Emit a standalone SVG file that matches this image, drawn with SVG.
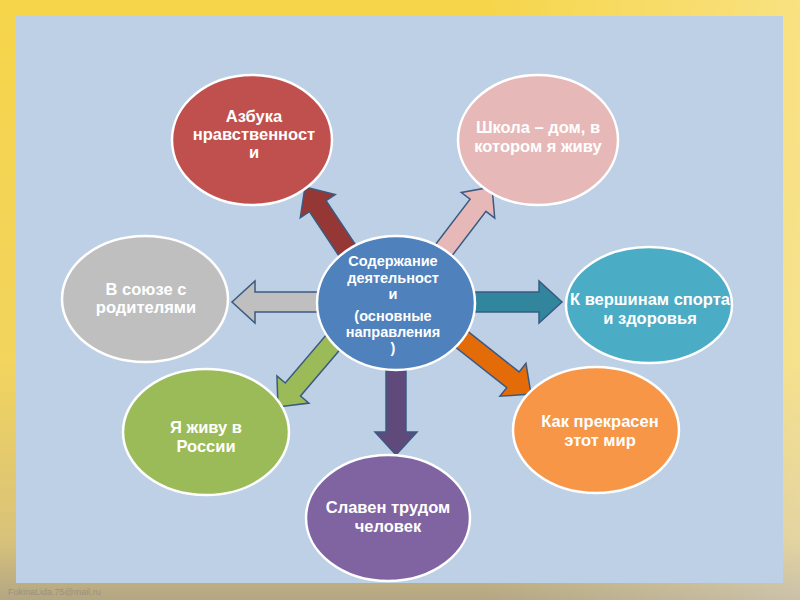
<svg xmlns="http://www.w3.org/2000/svg" width="800" height="600" viewBox="0 0 800 600">
<defs>
<linearGradient id="bg" x1="0" y1="0" x2="0" y2="1">
<stop offset="0" stop-color="#f6d54a"/>
<stop offset="0.6" stop-color="#f2d45e"/>
<stop offset="0.9" stop-color="#d8c27a"/>
<stop offset="1" stop-color="#b3a684"/>
</linearGradient>
<linearGradient id="bgh" x1="0" y1="0" x2="1" y2="0">
<stop offset="0" stop-color="#ffffff" stop-opacity="0"/>
<stop offset="0.6" stop-color="#ffffff" stop-opacity="0"/>
<stop offset="1" stop-color="#ffffff" stop-opacity="0.3"/>
</linearGradient>
<style>
.node{stroke:#ffffff;stroke-width:2.5}
.arr{stroke:#3b5a82;stroke-width:1.5;stroke-linejoin:miter}
.t{font-family:"Liberation Sans",Arial,sans-serif;font-weight:bold;font-size:16.5px;fill:#ffffff;text-anchor:middle}
.tc{font-family:"Liberation Sans",Arial,sans-serif;font-weight:bold;font-size:14.5px;fill:#ffffff;text-anchor:middle}
</style>
<polygon id="ar" points="-90,-10 -23,-10 -23,-21 0,0 -23,21 -23,10 -90,10"/>
</defs>
<rect x="0" y="0" width="800" height="600" fill="url(#bg)"/>
<rect x="0" y="0" width="800" height="600" fill="url(#bgh)"/>
<rect x="16" y="16" width="767" height="567" fill="#bed0e5"/>
<text x="8" y="595" font-family="Liberation Sans,Arial,sans-serif" font-size="9" fill="#9a927e">FokinaLida.75@mail.ru</text>

<g id="connectors">
<use href="#ar" class="arr" fill="#953735" transform="translate(305,187) rotate(-123.7)"/>
<use href="#ar" class="arr" fill="#e6b9b8" transform="translate(492,187) rotate(-52.6)"/>
<use href="#ar" class="arr" fill="#31859c" transform="translate(562,302)"/>
<use href="#ar" class="arr" fill="#e36c09" transform="translate(531,394) rotate(38.3)"/>
<use href="#ar" class="arr" fill="#604a7b" transform="translate(396,455) rotate(90)"/>
<use href="#ar" class="arr" fill="#9bbb59" transform="translate(278,407) rotate(130.4)"/>
<use href="#ar" class="arr" fill="#bfbfbf" transform="translate(232,302) rotate(180)"/>
</g>

<g id="n-azbuka">
<ellipse class="node" cx="252" cy="140" rx="80" ry="65" fill="#c0504d"/>
<text class="t" x="254" y="122">Азбука</text>
<text class="t" x="254" y="140">нравственност</text>
<text class="t" x="254" y="158">и</text>
</g>
<g id="n-shkola">
<ellipse class="node" cx="538" cy="140" rx="80" ry="65" fill="#e6b9b8"/>
<text class="t" x="538" y="133">Школа – дом, в</text>
<text class="t" x="538" y="152">котором я живу</text>
</g>
<g id="n-sport">
<ellipse class="node" cx="649" cy="305" rx="83" ry="58" fill="#4bacc6"/>
<text class="t" x="650" y="305">К вершинам спорта</text>
<text class="t" x="650" y="324">и здоровья</text>
</g>
<g id="n-mir">
<ellipse class="node" cx="596" cy="430" rx="83" ry="63" fill="#f79646"/>
<text class="t" x="600" y="427">Как прекрасен</text>
<text class="t" x="600" y="446">этот мир</text>
</g>
<g id="n-trud">
<ellipse class="node" cx="388" cy="518" rx="82" ry="63" fill="#8064a2"/>
<text class="t" x="388" y="513">Славен трудом</text>
<text class="t" x="388" y="532">человек</text>
</g>
<g id="n-rossia">
<ellipse class="node" cx="206" cy="432" rx="83" ry="63" fill="#9bbb59"/>
<text class="t" x="206" y="433">Я живу в</text>
<text class="t" x="206" y="452">России</text>
</g>
<g id="n-roditeli">
<ellipse class="node" cx="145" cy="299" rx="83" ry="63" fill="#bfbfbf"/>
<text class="t" x="146" y="295">В союзе с</text>
<text class="t" x="146" y="313">родителями</text>
</g>
<g id="n-center">
<ellipse class="node" cx="396" cy="303" rx="79" ry="67" fill="#4f81bd"/>
<text class="tc" x="393" y="266">Содержание</text>
<text class="tc" x="393" y="283">деятельност</text>
<text class="tc" x="393" y="299">и</text>
<text class="tc" x="393" y="321">(основные</text>
<text class="tc" x="393" y="337">направления</text>
<text class="tc" x="393" y="353">)</text>
</g>
</svg>
